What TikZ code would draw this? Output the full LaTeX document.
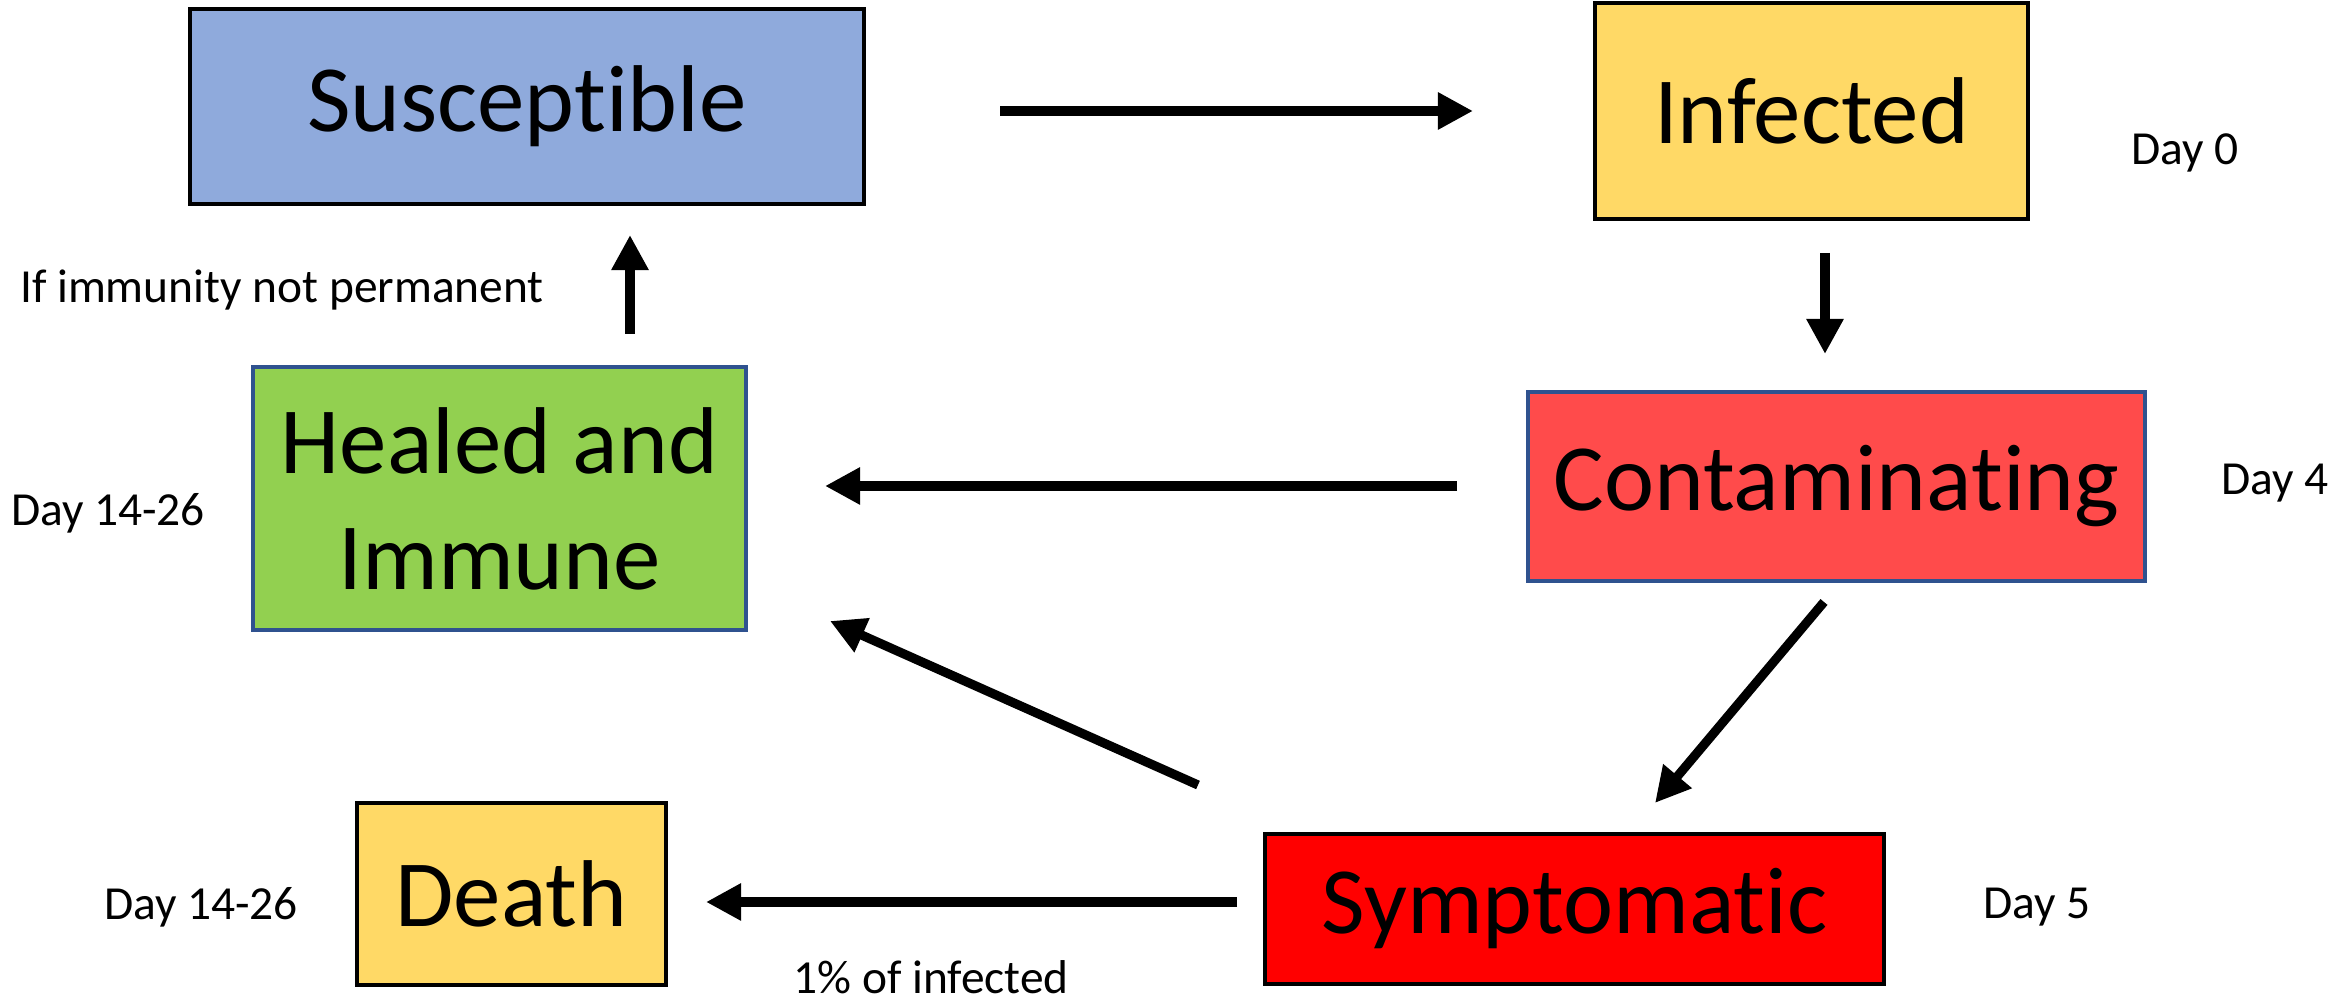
\documentclass[tikz,border=0pt]{standalone}
\usepackage{fontspec}
\setmainfont{Carlito}[Ligatures=NoCommon]
\usetikzlibrary{arrows.meta}
\definecolor{susblue}{HTML}{8FAADC}
\definecolor{infyellow}{HTML}{FFD966}
\definecolor{contred}{HTML}{FF4B4B}
\definecolor{healgreen}{HTML}{92D050}
\definecolor{edgeblue}{HTML}{2F528F}

\begin{document}
\begin{tikzpicture}[
    box/.style={draw=black, line width=1pt, inner sep=0pt, align=center, font=\fontsize{27}{33}\selectfont},
    note/.style={font=\fontsize{13.5}{16}\selectfont},
    flow/.style={line width=2.6pt, -{Triangle[length=10pt,width=10pt]}}]
\useasboundingbox (0, 0) rectangle (23.31, 10.05);
\node[box, fill=susblue, minimum width=6.74cm, minimum height=1.95cm] (sus) at (5.27, 8.985) {Susceptible};
\node[box, fill=infyellow, minimum width=4.33cm, minimum height=2.16cm] (inf) at (18.115, 8.94) {Infected};
\node[box, draw=edgeblue, fill=contred, minimum width=6.17cm, minimum height=1.89cm] (cont) at (18.365, 5.185) {Contaminating};
\node[box, draw=edgeblue, fill=healgreen, minimum width=4.93cm, minimum height=2.63cm] (heal) at (4.995, 5.065) {Healed and\\Immune};
\node[box, fill=red, minimum width=6.19cm, minimum height=1.50cm] (symp) at (15.745, 0.96) {Symptomatic};
\node[box, fill=infyellow, minimum width=3.09cm, minimum height=1.82cm] (death) at (5.115, 1.11) {Death};
\node[note] (day0) at (21.85, 8.52) {Day 0};
\node[note] (day4) at (22.75, 5.22) {Day 4};
\node[note] (dayheal) at (1.08, 4.92) {Day 14-26};
\node[note] (ifimm) at (2.82, 7.15) {If immunity not permanent};
\node[note] (day5) at (20.37, 0.98) {Day 5};
\node[note] (daydeath) at (2.01, 0.98) {Day 14-26};
\node[note] (pct) at (9.31, 0.28) {1\% of infected};
\coordinate (susout) at (10.00, 8.94);
\coordinate (infin) at (14.73, 8.94);
\coordinate (infout) at (18.25, 7.52);
\coordinate (contin) at (18.25, 6.51);
\coordinate (contout) at (14.57, 5.19);
\coordinate (healin) at (8.25, 5.19);
\coordinate (healout) at (6.30, 6.71);
\coordinate (susin) at (6.30, 7.70);
\coordinate (contdown) at (18.24, 4.03);
\coordinate (sympin) at (16.55, 2.02);
\coordinate (sympup) at (11.98, 2.20);
\coordinate (healside) at (8.30, 3.84);
\coordinate (sympout) at (12.37, 1.03);
\coordinate (deathin) at (7.06, 1.03);
\draw[flow] (susout) -- (infin);
\draw[flow] (infout) -- (contin);
\draw[flow] (contout) -- (healin);
\draw[flow] (healout) -- (susin);
\draw[flow] (contdown) -- (sympin);
\draw[flow] (sympup) -- (healside);
\draw[flow] (sympout) -- (deathin);
\end{tikzpicture}
\end{document}
